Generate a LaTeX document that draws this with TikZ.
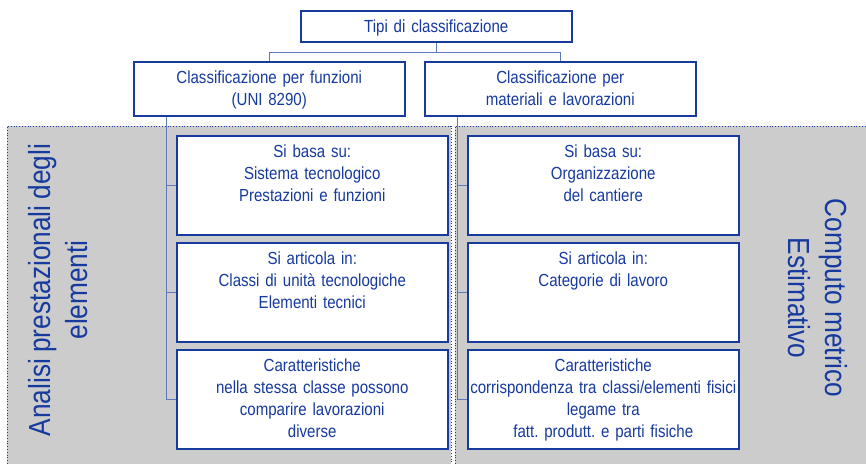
\documentclass[tikz,border=0pt]{standalone}
\usepackage{fontspec}
\setmainfont[FakeStretch = 0.86, WordSpace = 0.86]{Liberation Sans}
\frenchspacing

\definecolor{inkblue}{RGB}{22, 58, 158}
\definecolor{lineblue}{RGB}{92, 122, 186}
\definecolor{panelgray}{RGB}{204, 204, 204}

\begin{document}
\begin{tikzpicture}[x = 1pt, y = -1pt,
	panel/.style = {fill = panelgray},
	edge/.style = {inkblue, dotted, line width = 0.8pt},
	link/.style = {lineblue, line width = 0.9pt},
	box/.style = {draw = inkblue, line width = 1.5pt, fill = white, text = inkblue,
		anchor = north west, align = center, text width = 291pt,
		inner xsep = -10pt, inner ysep = 0pt, text height = 22pt,
		font = \fontsize{17.5}{22}\selectfont},
	sidetext/.style = {text = inkblue, align = center,
		font = \fontsize{30.5}{37}\selectfont}]

	\useasboundingbox (0, 0) rectangle (866, 463);

	% Panels

	\fill [panel] (7, 126) rectangle (451, 475);
	\draw [edge] (7, 475) -- (7, 126) -- (451, 126) -- (451, 475);
	\fill [panel] (455, 126) rectangle (880, 475);
	\draw [edge] (455, 475) -- (455, 126) -- (880, 126);

	\node [sidetext, rotate = 90] (analisi) at (58, 290) {Analisi prestazionali degli\\elementi};
	\node [sidetext, rotate = -90] (computo) at (818, 298) {Computo metrico\\Estimativo};

	% Boxes

	\node [box, text depth = 9pt] (tipi) at (300, 10) {Tipi di classificazione};

	\node [box, text depth = 32pt] (funz) at (133, 61) {Classificazione per funzioni\\(UNI 8290)};
	\node [box, text depth = 32pt] (mat) at (424, 61) {Classificazione per\\materiali e lavorazioni};

	\node [box, text depth = 77pt] (l1) at (176, 135) {Si basa su:\\Sistema tecnologico\\Prestazioni e funzioni};
	\node [box, text depth = 77pt] (l2) at (176, 242) {Si articola in:\\Classi di unità tecnologiche\\Elementi tecnici};
	\node [box, text depth = 77pt] (l3) at (176, 349) {Caratteristiche\\nella stessa classe possono\\comparire lavorazioni\\diverse};

	\node [box, text depth = 77pt] (r1) at (467, 135) {Si basa su:\\Organizzazione\\del cantiere};
	\node [box, text depth = 77pt] (r2) at (467, 242) {Si articola in:\\Categorie di lavoro};
	\node [box, text depth = 77pt] (r3) at (467, 349) {Caratteristiche\\corrispondenza tra classi/elementi fisici\\legame tra\\fatt. produtt. e parti fisiche};

	% Connectors

	\draw [link] (tipi.south) -- ++(0, 10) -| (funz.north);
	\draw [link] (tipi.south) -- ++(0, 10) -| (mat.north);

	\coordinate (ltrunk) at ([xshift = 33pt] funz.south west);
	\coordinate (rtrunk) at ([xshift = 33pt] mat.south west);

	\draw [link] (ltrunk) |- (l3.west);
	\draw [link] (ltrunk |- l1.west) -- (l1.west);
	\draw [link] (ltrunk |- l2.west) -- (l2.west);

	\draw [link] (rtrunk) |- (r3.west);
	\draw [link] (rtrunk |- r1.west) -- (r1.west);
	\draw [link] (rtrunk |- r2.west) -- (r2.west);

\end{tikzpicture}
\end{document}
